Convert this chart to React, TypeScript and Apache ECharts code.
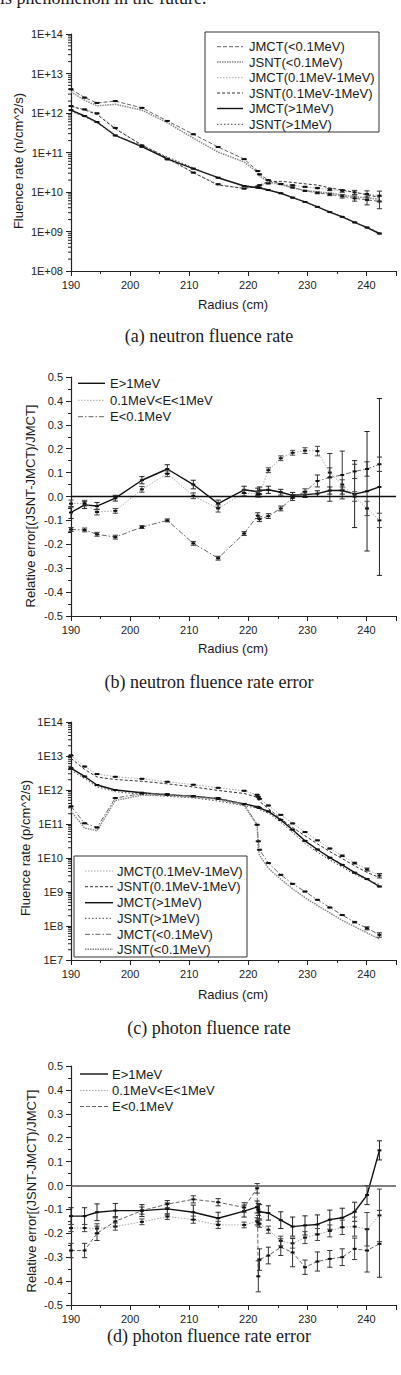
import React, { useEffect, useRef } from "react";
import * as echarts from "echarts";

// ---------- shared x positions (Radius, cm) ----------
const xNeutron = [190, 192.3, 194.4, 197.5, 202, 206.3, 210.7, 214.9, 219.3, 221.6, 221.9, 223.4, 225.5, 227.5, 229.6, 231.7, 233.8, 235.9, 238, 240.1, 242.2];
const xPhoton = [190, 192.3, 194.4, 197.5, 202, 206.3, 210.7, 214.9, 219.3, 221.5, 221.7, 221.9, 223.4, 225.5, 227.5, 229.6, 231.7, 233.8, 235.9, 238, 240.1, 242.2];
const radiusTicks = ["190", "200", "210", "220", "230", "240"];

// ---------- (a) neutron fluence rate ----------
const nJmctLow = [4.0e12, 2.45e12, 1.8e12, 2.0e12, 1.35e12, 6.3e11, 2.9e11, 1.38e11, 6.8e10, 3.4e10, 2.8e10, 2.0e10, 1.6e10, 1.3e10, 1.07e10, 9.5e9, 8.7e9, 7.8e9, 6.9e9, 6.3e9, 5.8e9];
const nJsntLow = [3.45e12, 2.11e12, 1.52e12, 1.66e12, 1.18e12, 5.67e11, 2.33e11, 1.02e11, 5.75e10, 3.13e10, 2.53e10, 1.84e10, 1.52e10, 1.29e10, 1.09e10, 1.01e10, 9.4e9, 8.5e9, 7.6e9, 7.0e9, 6.6e9];
const nJmctMid = [1.5e12, 1.23e12, 9.8e11, 4.2e11, 1.5e11, 6.7e10, 3.1e10, 1.57e10, 1.22e10, 1.37e10, 1.48e10, 1.65e10, 1.6e10, 1.48e10, 1.35e10, 1.26e10, 1.15e10, 1.07e10, 9.8e9, 8.9e9, 8.1e9];
const nJsntMid = [1.46e12, 1.2e12, 9.2e11, 3.95e11, 1.55e11, 7.3e10, 3.1e10, 1.49e10, 1.24e10, 1.38e10, 1.5e10, 1.83e10, 1.86e10, 1.75e10, 1.61e10, 1.5e10, 1.27e10, 1.12e10, 9.8e9, 8.5e9, 7.3e9];
const nJmctHigh = [1.18e12, 8.4e11, 5.9e11, 2.7e11, 1.4e11, 6.9e10, 3.9e10, 2.3e10, 1.42e10, 1.29e10, 1.26e10, 1.12e10, 9.3e9, 7.2e9, 5.6e9, 4.2e9, 3.1e9, 2.35e9, 1.7e9, 1.26e9, 8.9e8];
const nJsntHigh = [1.1e12, 8.1e11, 5.66e11, 2.68e11, 1.5e11, 7.7e10, 4.1e10, 2.23e10, 1.46e10, 1.32e10, 1.29e10, 1.15e10, 9.5e9, 7.24e9, 5.65e9, 4.25e9, 3.18e9, 2.41e9, 1.72e9, 1.29e9, 9.3e8];
const nRelErrLow = [0.02, 0.02, 0.02, 0.02, 0.02, 0.02, 0.02, 0.02, 0.02, 0.02, 0.02, 0.02, 0.02, 0.02, 0.03, 0.05, 0.07, 0.1, 0.15, 0.25, 0.35];
const nRelErrMid = [0.02, 0.02, 0.02, 0.02, 0.02, 0.02, 0.02, 0.02, 0.02, 0.02, 0.02, 0.02, 0.02, 0.02, 0.03, 0.04, 0.06, 0.08, 0.12, 0.2, 0.3];
const nRelErrHigh = [0.02, 0.02, 0.02, 0.02, 0.02, 0.02, 0.02, 0.02, 0.02, 0.02, 0.02, 0.02, 0.02, 0.02, 0.02, 0.02, 0.02, 0.02, 0.02, 0.02, 0.02];
const fluenceTicksN = ["1E+08", "1E+09", "1E+10", "1E+11", "1E+12", "1E+13", "1E+14"];

// ---------- (b) neutron fluence rate error ----------
const bE1 = [-0.067, -0.035, -0.04, -0.007, 0.068, 0.115, 0.05, -0.03, 0.028, 0.02, 0.025, 0.028, 0.018, 0.005, 0.008, 0.012, 0.025, 0.025, 0.01, 0.022, 0.04];
const bMid = [-0.03, -0.028, -0.065, -0.06, 0.03, 0.095, 0.003, -0.05, 0.015, 0.01, 0.01, 0.11, 0.16, 0.183, 0.192, 0.19, 0.1, 0.05, 0.0, -0.05, -0.1];
const bLow = [-0.138, -0.14, -0.158, -0.17, -0.128, -0.1, -0.196, -0.258, -0.155, -0.08, -0.095, -0.082, -0.05, -0.005, 0.02, 0.065, 0.08, 0.09, 0.105, 0.115, 0.135];
const bE1Err = [0.025, 0.015, 0.015, 0.012, 0.015, 0.018, 0.018, 0.015, 0.015, 0.015, 0.015, 0.015, 0.012, 0.012, 0.012, 0.012, 0.015, 0.015, 0.14, 0.25, 0.37];
const bMidErr = [0.015, 0.012, 0.012, 0.01, 0.012, 0.012, 0.012, 0.015, 0.012, 0.012, 0.012, 0.01, 0.01, 0.01, 0.012, 0.02, 0.02, 0.02, 0.02, 0.03, 0.03];
const bLowErr = [0.008, 0.008, 0.008, 0.008, 0.006, 0.006, 0.008, 0.008, 0.008, 0.012, 0.01, 0.01, 0.01, 0.012, 0.012, 0.025, 0.1, 0.1, 0.03, 0.03, 0.03];
const errTicks = ["-0.5", "-0.4", "-0.3", "-0.2", "-0.1", "0.0", "0.1", "0.2", "0.3", "0.4", "0.5"];

// ---------- (c) photon fluence rate ----------
const pJmctMid = [1.04e13, 4.9e12, 2.94e12, 2.45e12, 2.14e12, 1.75e12, 1.43e12, 1.16e12, 9.5e11, 7.2e11, 6.3e11, 5.5e11, 3.5e11, 1.86e11, 1.04e11, 5.8e10, 3.3e10, 1.9e10, 1.16e10, 7.1e9, 4.6e9, 3.05e9];
const pJsntMid = [8.55e12, 4.03e12, 2.41e12, 2.03e12, 1.81e12, 1.52e12, 1.23e12, 9.7e11, 7.9e11, 6.1e11, 5.3e11, 4.6e11, 2.85e11, 1.43e11, 7.9e10, 4.5e10, 2.6e10, 1.54e10, 9.6e9, 5.9e9, 3.76e9, 2.67e9];
const pJmctHigh = [4.4e12, 2.5e12, 1.4e12, 1.0e12, 8.3e11, 7.2e11, 6.6e11, 5.5e11, 3.9e11, 3.2e11, 3.1e11, 2.95e11, 2.35e11, 1.32e11, 6.8e10, 3.2e10, 1.78e10, 1.02e10, 6.3e9, 3.7e9, 2.4e9, 1.45e9];
const pJsntHigh = [3.84e12, 2.18e12, 1.24e12, 8.95e11, 7.43e11, 6.49e11, 5.86e11, 4.75e11, 3.48e11, 2.91e11, 2.79e11, 2.63e11, 2.08e11, 1.13e11, 5.63e10, 2.67e10, 1.49e10, 8.74e9, 5.45e9, 3.29e9, 2.3e9, 1.66e9];
const pJmctLow = [3.3e11, 1.05e11, 7.9e10, 5.8e11, 7.9e11, 7.6e11, 6.5e11, 5.8e11, 3.85e11, 9.5e10, 3.1e10, 1.75e10, 7.1e9, 3.2e9, 1.74e9, 1.03e9, 5.9e8, 3.5e8, 2.1e8, 1.3e8, 8.6e7, 5.5e7];
const pJsntLow = [2.4e11, 7.64e10, 6.32e10, 4.93e11, 7.07e11, 7.0e11, 6.12e11, 5.39e11, 3.5e11, 9.39e10, 1.92e10, 1.21e10, 5.02e9, 2.37e9, 1.25e9, 6.78e8, 4.02e8, 2.43e8, 1.47e8, 9.56e7, 6.26e7, 4.16e7];
const pRelErrMid = [0.02, 0.02, 0.02, 0.02, 0.02, 0.02, 0.02, 0.02, 0.02, 0.02, 0.02, 0.02, 0.02, 0.02, 0.02, 0.02, 0.02, 0.02, 0.05, 0.06, 0.1, 0.15];
const pRelErrHigh = [0.02, 0.02, 0.02, 0.02, 0.02, 0.02, 0.02, 0.02, 0.02, 0.02, 0.02, 0.02, 0.02, 0.02, 0.02, 0.02, 0.02, 0.02, 0.02, 0.02, 0.02, 0.02];
const pRelErrLow = [0.02, 0.02, 0.02, 0.02, 0.02, 0.02, 0.02, 0.02, 0.02, 0.02, 0.02, 0.02, 0.02, 0.02, 0.02, 0.02, 0.02, 0.02, 0.03, 0.05, 0.1, 0.15];
const fluenceTicksP = ["1E7", "1E8", "1E9", "1E10", "1E11", "1E12", "1E13", "1E14"];

// ---------- (d) photon fluence rate error ----------
const dE1 = [-0.128, -0.128, -0.112, -0.105, -0.105, -0.098, -0.112, -0.137, -0.107, -0.09, -0.1, -0.11, -0.115, -0.145, -0.172, -0.167, -0.163, -0.143, -0.135, -0.11, -0.04, 0.147];
const dMid = [-0.178, -0.178, -0.18, -0.172, -0.152, -0.13, -0.143, -0.165, -0.165, -0.15, -0.155, -0.16, -0.185, -0.232, -0.242, -0.218, -0.205, -0.19, -0.175, -0.172, -0.183, -0.125];
const dLow = [-0.272, -0.272, -0.2, -0.15, -0.105, -0.078, -0.058, -0.07, -0.092, -0.012, -0.38, -0.31, -0.293, -0.258, -0.28, -0.342, -0.318, -0.307, -0.3, -0.265, -0.272, -0.244];
const dE1Err = [0.035, 0.035, 0.035, 0.03, 0.025, 0.025, 0.03, 0.025, 0.025, 0.025, 0.025, 0.03, 0.03, 0.035, 0.04, 0.04, 0.04, 0.04, 0.04, 0.04, 0.04, 0.04];
const dMidErr = [0.015, 0.015, 0.02, 0.015, 0.012, 0.012, 0.015, 0.015, 0.012, 0.015, 0.015, 0.015, 0.015, 0.02, 0.02, 0.025, 0.025, 0.025, 0.03, 0.04, 0.07, 0.11];
const dLowErr = [0.03, 0.03, 0.03, 0.02, 0.015, 0.015, 0.015, 0.015, 0.02, 0.02, 0.065, 0.045, 0.035, 0.035, 0.06, 0.03, 0.04, 0.035, 0.035, 0.045, 0.09, 0.14];

// ---------- texts ----------
const legendA = ["JMCT(<0.1MeV)", "JSNT(<0.1MeV)", "JMCT(0.1MeV-1MeV)", "JSNT(0.1MeV-1MeV)", "JMCT(>1MeV)", "JSNT(>1MeV)"];
const legendC = ["JMCT(0.1MeV-1MeV)", "JSNT(0.1MeV-1MeV)", "JMCT(>1MeV)", "JSNT(>1MeV)", "JMCT(<0.1MeV)", "JSNT(<0.1MeV)"];
const legendErr = ["E>1MeV", "0.1MeV<E<1MeV", "E<0.1MeV"];

const SANS = '"Liberation Sans", Arial, sans-serif';
const SERIF = '"Liberation Serif", "Times New Roman", serif';

type St = { color: string; width: number; dash: number[] | null };
const ST: Record<string, St> = {
  solid: { color: "#111", width: 1.4, dash: null },
  lightDot: { color: "#a8a8a8", width: 1, dash: [1.5, 1.5] },
  darkDash: { color: "#333", width: 1, dash: [3, 2] },
  grayDash: { color: "#666", width: 1, dash: [4, 2] },
  grayDot: { color: "#888", width: 1.5, dash: [1.5, 1] },
  darkDot: { color: "#444", width: 1, dash: [1.5, 2] },
  dashDot: { color: "#666", width: 1, dash: [5, 2, 1.5, 2] },
};

const GRIDS = [
  { left: 71, top: 34, width: 325, height: 237 },
  { left: 71, top: 377, width: 325, height: 239 },
  { left: 71, top: 722, width: 325, height: 238 },
  { left: 71, top: 1066, width: 325, height: 239 },
];

function lineSeries(gi: number, xs: number[], ys: number[], st: St, extra: any = {}) {
  return {
    type: "line",
    xAxisIndex: gi,
    yAxisIndex: gi,
    data: xs.map((x, i) => [x, ys[i]]),
    showSymbol: false,
    symbol: "none",
    silent: true,
    z: 3,
    lineStyle: { color: st.color, width: st.width, type: st.dash ? st.dash : "solid" },
    ...extra,
  };
}

function barSeries(gi: number, xs: number[], ys: number[], lo: number[], hi: number[], color: string) {
  return {
    type: "custom",
    xAxisIndex: gi,
    yAxisIndex: gi,
    silent: true,
    z: 4,
    data: xs.map((x, i) => [x, ys[i], lo[i], hi[i]]),
    encode: { x: 0, y: 1 },
    renderItem: (_p: any, api: any) => {
      const x = api.value(0);
      const c = api.coord([x, api.value(1)]);
      const l = api.coord([x, api.value(2)]);
      const h = api.coord([x, api.value(3)]);
      const cw = 2.6;
      const s = { stroke: color, lineWidth: 1 };
      return {
        type: "group",
        children: [
          { type: "line", shape: { x1: l[0], y1: l[1], x2: h[0], y2: h[1] }, style: s },
          { type: "line", shape: { x1: l[0] - cw, y1: l[1], x2: l[0] + cw, y2: l[1] }, style: s },
          { type: "line", shape: { x1: h[0] - cw, y1: h[1], x2: h[0] + cw, y2: h[1] }, style: s },
          { type: "rect", shape: { x: c[0] - 2, y: c[1] - 1, width: 4, height: 2 }, style: { fill: "#111" } },
        ],
      };
    },
  };
}

function relBars(gi: number, xs: number[], ys: number[], rel: number[], color: string) {
  return barSeries(gi, xs, ys, ys.map((v, i) => v * (1 - rel[i])), ys.map((v, i) => v * (1 + rel[i])), color);
}
function absBars(gi: number, xs: number[], ys: number[], err: number[], color: string) {
  return barSeries(gi, xs, ys, ys.map((v, i) => v - err[i]), ys.map((v, i) => v + err[i]), color);
}

function logMinorTicks(gi: number, minExp: number, maxExp: number) {
  const data: number[][] = [];
  for (let e = minExp; e < maxExp; e++) for (let k = 2; k <= 9; k++) data.push([190, k * Math.pow(10, e)]);
  return {
    type: "custom",
    xAxisIndex: gi,
    yAxisIndex: gi,
    silent: true,
    z: 2,
    data,
    encode: { x: 0, y: 1 },
    renderItem: (_p: any, api: any) => {
      const c = api.coord([api.value(0), api.value(1)]);
      return { type: "line", shape: { x1: c[0] - 3, y1: c[1], x2: c[0], y2: c[1] }, style: { stroke: "#222", lineWidth: 1 } };
    },
  };
}

const axisCommon = {
  axisLine: { show: true, onZero: false, lineStyle: { color: "#222", width: 1.2 } },
  axisTick: { show: true, inside: false, length: 5, lineStyle: { color: "#222", width: 1 } },
  splitLine: { show: false },
  axisLabel: { color: "#222", fontSize: 11, fontFamily: SANS, margin: 8 },
};

function xAxis(gi: number) {
  return {
    type: "value",
    gridIndex: gi,
    min: 190,
    max: 245,
    interval: 10,
    ...axisCommon,
    axisLabel: {
      ...axisCommon.axisLabel,
      showMaxLabel: false,
      formatter: (v: number) => radiusTicks[Math.round((v - 190) / 10)] ?? "",
    },
    minorTick: { show: true, splitNumber: 2, length: 3, lineStyle: { color: "#222", width: 1 } },
  };
}

function logYAxis(gi: number, minExp: number, maxExp: number, labels: string[]) {
  return {
    type: "log",
    logBase: 10,
    gridIndex: gi,
    min: Math.pow(10, minExp),
    max: Math.pow(10, maxExp),
    interval: 1,
    ...axisCommon,
    axisLabel: { ...axisCommon.axisLabel, formatter: (v: number) => labels[Math.round(Math.log10(v)) - minExp] ?? "" },
  };
}

function errYAxis(gi: number) {
  return {
    type: "value",
    gridIndex: gi,
    min: -0.5,
    max: 0.5,
    interval: 0.1,
    ...axisCommon,
    minorTick: { show: true, splitNumber: 2, length: 3, lineStyle: { color: "#222", width: 1 } },
    axisLabel: { ...axisCommon.axisLabel, formatter: (v: number) => errTicks[Math.round((v + 0.5) * 10)] ?? "" },
  };
}

function text(x: number, y: number, t: string, font: string, align = "left", rotation = 0) {
  return {
    type: "text",
    x,
    y,
    rotation,
    z: 20,
    silent: true,
    style: { text: t, font, fill: "#1a1a1a", textAlign: align, textVerticalAlign: "middle" },
  };
}

function legendRows(x1: number, x2: number, tx: number, ys: number[], names: string[], styles: St[]) {
  const els: any[] = [];
  names.forEach((n, i) => {
    const st = styles[i];
    els.push({
      type: "line",
      z: 20,
      silent: true,
      shape: { x1, y1: ys[i], x2, y2: ys[i] },
      style: { stroke: st.color, lineWidth: st.width, lineDash: st.dash || undefined },
    });
    els.push(text(tx, ys[i], n, `13px ${SANS}`));
  });
  return els;
}

export default function App() {
  const ref = useRef<HTMLDivElement>(null);
  useEffect(() => {
    if (!ref.current) return;
    const chart = echarts.init(ref.current, undefined, { renderer: "svg" });

    const zeroLine = (color: string, width: number) => ({
      silent: true,
      symbol: ["none", "none"],
      label: { show: false },
      lineStyle: { color, width, type: "solid" },
      data: [{ yAxis: 0 }],
    });

    const series: any[] = [
      // (a)
      logMinorTicks(0, 8, 14),
      lineSeries(0, xNeutron, nJmctLow, ST.grayDash),
      lineSeries(0, xNeutron, nJsntLow, ST.grayDot),
      lineSeries(0, xNeutron, nJmctMid, ST.lightDot),
      lineSeries(0, xNeutron, nJsntMid, ST.darkDash),
      lineSeries(0, xNeutron, nJmctHigh, ST.solid),
      lineSeries(0, xNeutron, nJsntHigh, ST.darkDot),
      relBars(0, xNeutron, nJmctLow, nRelErrLow, "#333"),
      relBars(0, xNeutron, nJmctMid, nRelErrMid, "#333"),
      relBars(0, xNeutron, nJmctHigh, nRelErrHigh, "#333"),
      // (b)
      lineSeries(1, xNeutron, bE1, ST.solid, { markLine: zeroLine("#111", 1.3) }),
      lineSeries(1, xNeutron, bMid, ST.lightDot),
      lineSeries(1, xNeutron, bLow, ST.dashDot),
      absBars(1, xNeutron, bE1, bE1Err, "#222"),
      absBars(1, xNeutron, bMid, bMidErr, "#444"),
      absBars(1, xNeutron, bLow, bLowErr, "#333"),
      // (c)
      logMinorTicks(2, 7, 14),
      lineSeries(2, xPhoton, pJmctMid, ST.lightDot),
      lineSeries(2, xPhoton, pJsntMid, ST.darkDash),
      lineSeries(2, xPhoton, pJmctHigh, ST.solid),
      lineSeries(2, xPhoton, pJsntHigh, ST.darkDot),
      lineSeries(2, xPhoton, pJmctLow, ST.dashDot),
      lineSeries(2, xPhoton, pJsntLow, ST.grayDot),
      relBars(2, xPhoton, pJmctMid, pRelErrMid, "#333"),
      relBars(2, xPhoton, pJmctHigh, pRelErrHigh, "#333"),
      relBars(2, xPhoton, pJmctLow, pRelErrLow, "#333"),
      // (d)
      lineSeries(3, xPhoton, dE1, ST.solid, { markLine: zeroLine("#555", 1.6) }),
      lineSeries(3, xPhoton, dMid, ST.lightDot),
      lineSeries(3, xPhoton, dLow, ST.grayDash),
      absBars(3, xPhoton, dE1, dE1Err, "#222"),
      absBars(3, xPhoton, dMid, dMidErr, "#444"),
      absBars(3, xPhoton, dLow, dLowErr, "#333"),
    ];

    const graphics: any[] = [
      text(0, -2, "is phenomenon in the future.", `18px ${SERIF}`),
      // axis titles
      text(18, 161, "Fluence rate (n/cm^2/s)", `13px ${SANS}`, "center", Math.PI / 2),
      text(30, 506, "Relative error[(JSNT-JMCT)/JMCT]", `13px ${SANS}`, "center", Math.PI / 2),
      text(25, 848, "Fluence rate (p/cm^2/s)", `13px ${SANS}`, "center", Math.PI / 2),
      text(31, 1191, "Relative error[(JSNT-JMCT)/JMCT]", `13px ${SANS}`, "center", Math.PI / 2),
      text(233, 304, "Radius (cm)", `13px ${SANS}`, "center"),
      text(233, 648, "Radius (cm)", `13px ${SANS}`, "center"),
      text(233, 994, "Radius (cm)", `13px ${SANS}`, "center"),
      // captions
      text(209, 336, "(a) neutron fluence rate", `18px ${SERIF}`, "center"),
      text(209, 682, "(b) neutron fluence rate error", `18px ${SERIF}`, "center"),
      text(209, 1028, "(c) photon fluence rate", `18px ${SERIF}`, "center"),
      text(209, 1336, "(d) photon fluence rate error", `18px ${SERIF}`, "center"),
      // legend boxes
      { type: "rect", z: 19, silent: true, shape: { x: 205, y: 32, width: 174, height: 100 }, style: { fill: "#fff", stroke: "#333", lineWidth: 1 } },
      { type: "rect", z: 19, silent: true, shape: { x: 74, y: 856, width: 173, height: 101 }, style: { fill: "#fff", stroke: "#333", lineWidth: 1 } },
      ...legendRows(217, 243, 249, [46.7, 62, 77.7, 93, 108.5, 124.3], legendA, [ST.grayDash, ST.grayDot, ST.lightDot, ST.darkDash, ST.solid, ST.darkDot]),
      ...legendRows(78, 105, 110, [383.3, 400.3, 416.7], legendErr, [ST.solid, ST.lightDot, ST.dashDot]),
      ...legendRows(85, 113, 117, [871, 886.7, 902.7, 918.3, 934.3, 949.3], legendC, [ST.lightDot, ST.darkDash, ST.solid, ST.darkDot, ST.dashDot, ST.grayDot]),
      ...legendRows(80, 108, 112, [1074, 1090.5, 1106.5], legendErr, [ST.solid, ST.lightDot, ST.grayDash]),
    ];

    chart.setOption({
      animation: false,
      backgroundColor: "#ffffff",
      grid: GRIDS.map((g) => ({ ...g, containLabel: false, outerBoundsMode: "none" })),
      xAxis: [xAxis(0), xAxis(1), xAxis(2), xAxis(3)],
      yAxis: [logYAxis(0, 8, 14, fluenceTicksN), errYAxis(1), logYAxis(2, 7, 14, fluenceTicksP), errYAxis(3)],
      series,
      graphic: { elements: graphics },
    });
    return () => chart.dispose();
  }, []);
  return <div ref={ref} style={{ position: "absolute", left: 0, top: 0, width: 401, height: 1375 }} />;
}
